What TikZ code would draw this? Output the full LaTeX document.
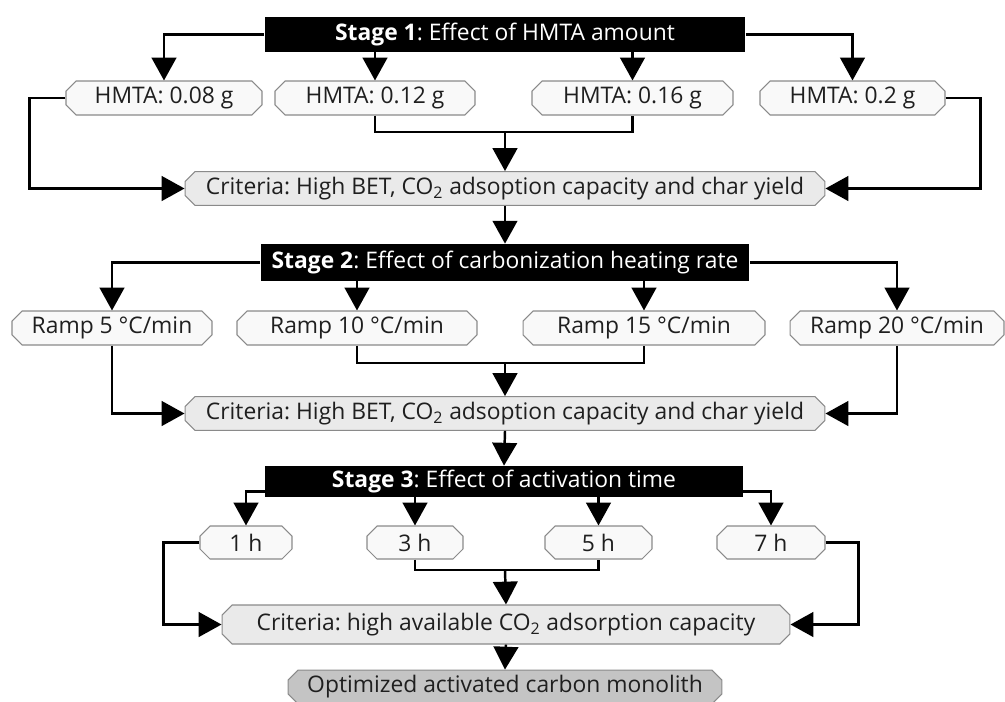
\documentclass[tikz,border=0pt]{standalone}
\usepackage{fontspec}
\setmainfont{Open Sans}
\usepackage{tikz}
\usetikzlibrary{positioning, shapes.misc, arrows.meta, calc}
\usepackage{xcolor}
\definecolor{optfill}{HTML}{F9F9F9}
\definecolor{critfill}{HTML}{EAEAEA}
\definecolor{finalfill}{HTML}{C4C4C4}
\definecolor{edgegray}{HTML}{8A8A8A}
\tikzstyle{arrow} = [line width=1.4pt,-{Triangle[width=14pt,length=13pt]}]
\frenchspacing

\begin{document}
\begin{tikzpicture}[
    x=0.02cm, y=-0.02cm,
    stagebox/.style={fill=black, text=white, inner sep=0pt, minimum height=0.7cm, font=\fontsize{13}{15}\selectfont},
    optbox/.style={chamfered rectangle, chamfered rectangle xsep=0.09cm, chamfered rectangle ysep=0.11cm,
      draw=edgegray, line width=0.6pt, fill=optfill, inner sep=0pt, minimum height=0.68cm,
      text=black!88, font=\fontsize{13}{15}\selectfont},
    critbox/.style={optbox, fill=critfill},
    finalbox/.style={optbox, fill=finalfill}
  ]

  \useasboundingbox (0,0) rectangle (1005,701);

  % stage 1
  \node[stagebox, minimum width=9.62cm] (s1) at (505,34.5) {\textbf{Stage 1}: Effect of HMTA amount};
  \node[optbox, minimum width=3.92cm] (h1) at (164,98) {HMTA: 0.08 g};
  \node[optbox, minimum width=4cm] (h2) at (375,98) {HMTA: 0.12 g};
  \node[optbox, minimum width=4.02cm] (h3) at (632.5,98) {HMTA: 0.16 g};
  \node[optbox, minimum width=3.7cm] (h4) at (852.5,98) {HMTA: 0.2 g};
  \node[critbox, minimum width=12.8cm, minimum height=0.66cm] (c1) at (505,188.5) {Criteria: High BET, CO\textsubscript{2} adsoption capacity and char yield};

  \draw[arrow] (s1.west) -| (h1.north);
  \draw[arrow] (s1.south -| h2.north) -- (h2.north);
  \draw[arrow] (s1.south -| h3.north) -- (h3.north);
  \draw[arrow] (s1.east) -| (h4.north);
  \coordinate (j1) at (505,132);
  \draw[line width=1.4pt] (h2.south) |- (j1) -| (h3.south);
  \draw[arrow] (j1) -- (c1.north);
  \draw[arrow] (h1.west) -- ++(-36,0) |- (c1.west);
  \draw[arrow] (h4.east) -- ++(35,0) |- (c1.east);

  % stage 2
  \node[stagebox, minimum width=9.78cm, minimum height=0.74cm] (s2) at (505,262.5) {\textbf{Stage 2}: Effect of carbonization heating rate};
  \node[optbox, minimum width=4cm] (r1) at (112,328) {Ramp 5 °C/min};
  \node[optbox, minimum width=4.8cm] (r2) at (357,328) {Ramp 10 °C/min};
  \node[optbox, minimum width=4.84cm] (r3) at (644,328) {Ramp 15 °C/min};
  \node[optbox, minimum width=4.28cm] (r4) at (897,328) {Ramp 20 °C/min};
  \node[critbox, minimum width=12.8cm, minimum height=0.66cm] (c2) at (505,413.5) {Criteria: High BET, CO\textsubscript{2} adsoption capacity and char yield};

  \draw[arrow] (c1.south) -- (s2.north);
  \draw[arrow] (s2.west) -| (r1.north);
  \draw[arrow] (s2.south -| r2.north) -- (r2.north);
  \draw[arrow] (s2.south -| r3.north) -- (r3.north);
  \draw[arrow] (s2.east) -| (r4.north);
  \coordinate (j2) at (505,363);
  \draw[line width=1.4pt] (r2.south) |- (j2) -| (r3.south);
  \draw[arrow] (j2) -- (c2.north);
  \draw[arrow] (r1.south) |- (c2.west);
  \draw[arrow] (r4.south) |- (c2.east);

  % stage 3
  \node[stagebox, minimum width=9.56cm, minimum height=0.62cm] (s3) at (504,481.5) {\textbf{Stage 3}: Effect of activation time};
  \node[optbox, minimum width=1.84cm, minimum height=0.66cm] (t1) at (246,542.5) {1 h};
  \node[optbox, minimum width=1.92cm, minimum height=0.66cm] (t3) at (415,542.5) {3 h};
  \node[optbox, minimum width=2.14cm, minimum height=0.66cm] (t5) at (598.5,542.5) {5 h};
  \node[optbox, minimum width=2.16cm, minimum height=0.66cm] (t7) at (771,542.5) {7 h};
  \node[critbox, minimum width=11.36cm, minimum height=0.78cm] (c3) at (506,624.5) {Criteria: high available CO\textsubscript{2} adsorption capacity};
  \node[finalbox, minimum width=8.68cm, minimum height=0.56cm] (fin) at (505,687) {Optimized activated carbon monolith};

  \draw[arrow] (c2.south) -- (s3.north);
  \draw[arrow] ([yshift=-0.2cm]s3.west) -| (t1.north);
  \draw[arrow] (s3.south -| t3.north) -- (t3.north);
  \draw[arrow] (s3.south -| t5.north) -- (t5.north);
  \draw[arrow] ([yshift=-0.2cm]s3.east) -| (t7.north);
  \coordinate (j3) at (505,570);
  \draw[line width=1.4pt] (t3.south) |- (j3) -| (t5.south);
  \draw[arrow] (j3) -- (c3.north);
  \draw[arrow] (t1.west) -- ++(-36,0) |- (c3.west);
  \draw[arrow] (t7.east) -- ++(33,0) |- (c3.east);
  \draw[arrow] (c3.south) -- (fin.north);

\end{tikzpicture}
\end{document}
